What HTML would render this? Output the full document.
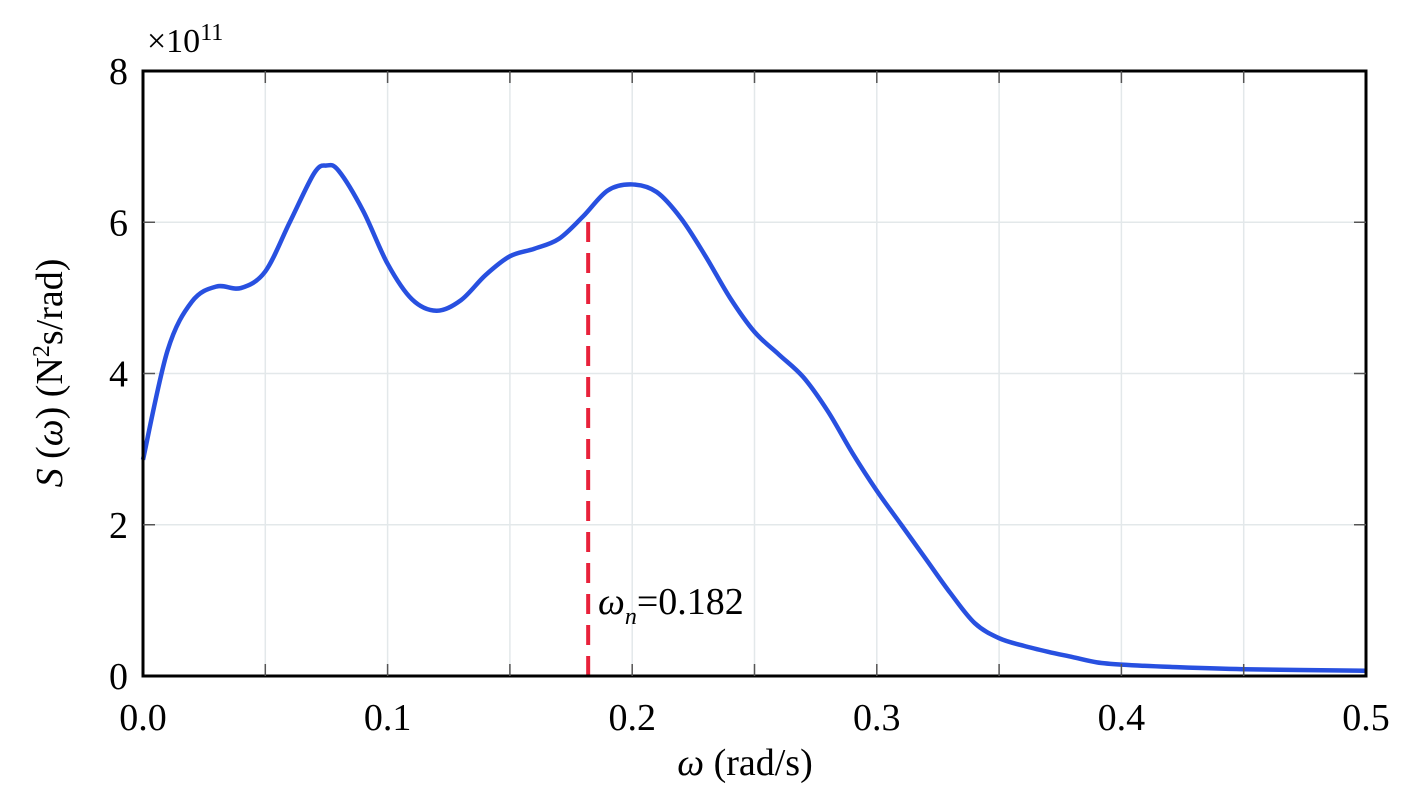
<!DOCTYPE html>
<html><head><meta charset="utf-8"><style>
body{margin:0;background:#fff;}
svg text{font-family:"Liberation Serif",serif;fill:#000;}
</style></head><body>
<svg id="c" width="1418" height="788" xmlns="http://www.w3.org/2000/svg">
<g id="grid"></g>
<path id="curve" fill="none" stroke="#2850e0" stroke-width="4.5"/>
<line id="marker" stroke="#e8213a" stroke-width="4" stroke-dasharray="20,11"/>
<text x="598" y="614" font-size="38"><tspan font-style="italic">ω</tspan><tspan font-style="italic" font-size="24" dy="10">n</tspan><tspan dy="-10">=0.182</tspan></text>
<rect x="143" y="71" width="1223" height="605" fill="none" stroke="#000" stroke-width="3"/>
<g id="ticks"></g>
<text x="147" y="52" font-size="34">×10<tspan font-size="24" dy="-12">11</tspan></text>
<text x="745" y="775" font-size="38" text-anchor="middle"><tspan font-style="italic">ω</tspan> (rad/s)</text>
<text transform="translate(62,373) rotate(-90)" font-size="38" text-anchor="middle"><tspan font-style="italic">S</tspan> (<tspan font-style="italic">ω</tspan>) (N<tspan font-size="24" dy="-13">2</tspan><tspan dy="13">s/rad)</tspan></text>
</svg>
<script>
const xs=[0,0.01,0.02,0.03,0.04,0.05,0.06,0.07,0.075,0.08,0.09,0.1,0.11,0.12,0.13,0.14,0.15,0.16,0.17,0.18,0.19,0.2,0.21,0.22,0.23,0.24,0.25,0.26,0.27,0.28,0.29,0.3,0.31,0.32,0.33,0.34,0.35,0.36,0.37,0.38,0.39,0.4,0.42,0.45,0.5];
const ys=[2.86,4.3,4.95,5.15,5.13,5.35,6.0,6.65,6.75,6.68,6.15,5.45,4.98,4.83,4.97,5.3,5.55,5.65,5.78,6.08,6.42,6.5,6.4,6.05,5.55,5.0,4.55,4.25,3.95,3.5,2.95,2.45,2.0,1.55,1.1,0.7,0.5,0.4,0.32,0.25,0.18,0.15,0.12,0.09,0.07];
const xTicks=[0,0.1,0.2,0.3,0.4,0.5];
const xTickLabels=["0.0","0.1","0.2","0.3","0.4","0.5"];
const xGrid=[0.05,0.1,0.15,0.2,0.25,0.3,0.35,0.4,0.45];
const yTicks=[0,2,4,6,8];
const markerX=0.182;
const L=143,R=1366,T=71,B=676;
const sx=v=>L+(v-0)/(0.5)*(R-L);
const sy=v=>B-(v/8)*(B-T);
const NS="http://www.w3.org/2000/svg";
const grid=document.getElementById('grid'),ticks=document.getElementById('ticks');
function ln(p,x1,y1,x2,y2,c,w){const e=document.createElementNS(NS,'line');e.setAttribute('x1',x1);e.setAttribute('y1',y1);e.setAttribute('x2',x2);e.setAttribute('y2',y2);e.setAttribute('stroke',c);e.setAttribute('stroke-width',w);p.appendChild(e);return e;}
xGrid.forEach(v=>{const g=ln(grid,sx(v),T,sx(v),B,'#e3e8ea',1.5);


const t1=ln(ticks,sx(v),B,sx(v),B-12,'#555',1.5);


const t2=ln(ticks,sx(v),T,sx(v),T+12,'#555',1.5);

});
yTicks.slice(1,-1).forEach(v=>{const g=ln(grid,L,sy(v),R,sy(v),'#e3e8ea',1.5);


const t1=ln(ticks,L,sy(v),L+12,sy(v),'#555',1.5);


const t2=ln(ticks,R,sy(v),R-12,sy(v),'#555',1.5);

});
const svg=document.getElementById('c');
xTicks.forEach((v,i)=>{const t=document.createElementNS(NS,'text');t.setAttribute('x',sx(v));t.setAttribute('y',730);t.setAttribute('font-size','38');t.setAttribute('text-anchor','middle');t.textContent=xTickLabels[i];


svg.appendChild(t);});
yTicks.forEach(v=>{const t=document.createElementNS(NS,'text');t.setAttribute('x',128);t.setAttribute('y',sy(v)+13);t.setAttribute('font-size','38');t.setAttribute('text-anchor','end');t.textContent=String(v);


svg.appendChild(t);});
const P=xs.map((x,i)=>[sx(x),sy(ys[i])]);
let d='M'+P[0][0]+','+P[0][1];
for(let i=0;i<P.length-1;i++){const p0=P[Math.max(0,i-1)],p1=P[i],p2=P[i+1],p3=P[Math.min(P.length-1,i+2)];
const c1=[p1[0]+(p2[0]-p0[0])/6,p1[1]+(p2[1]-p0[1])/6],c2=[p2[0]-(p3[0]-p1[0])/6,p2[1]-(p3[1]-p1[1])/6];
d+=` C${c1[0]},${c1[1]} ${c2[0]},${c2[1]} ${p2[0]},${p2[1]}`;}
document.getElementById('curve').setAttribute('d',d);
let k=0;while(k<xs.length-1&&xs[k+1]<markerX)k++;
const my=ys[k]+(ys[k+1]-ys[k])*(markerX-xs[k])/(xs[k+1]-xs[k]);
const m=document.getElementById('marker');
m.setAttribute('x1',sx(markerX));m.setAttribute('x2',sx(markerX));m.setAttribute('y1',B);m.setAttribute('y2',sy(my));
</script>
</body></html>
